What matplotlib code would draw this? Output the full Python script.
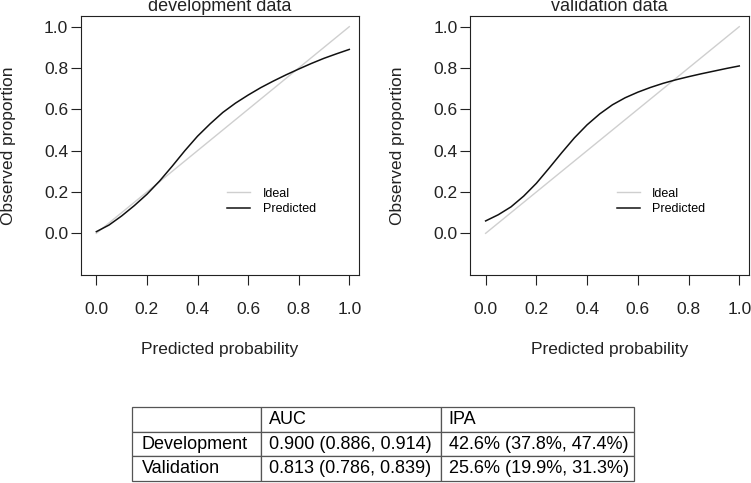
import numpy as np
import matplotlib.pyplot as plt

# Calibration curves
pred_prob = [0.00, 0.05, 0.10, 0.15, 0.20, 0.25, 0.30, 0.35, 0.40, 0.45, 0.50,
             0.55, 0.60, 0.65, 0.70, 0.75, 0.80, 0.85, 0.90, 0.95, 1.00]
dev_observed = [0.008, 0.040, 0.084, 0.134, 0.189, 0.253, 0.325, 0.400, 0.470, 0.530, 0.585,
                0.630, 0.669, 0.705, 0.737, 0.767, 0.795, 0.822, 0.847, 0.869, 0.890]
val_observed = [0.060, 0.090, 0.128, 0.180, 0.242, 0.315, 0.390, 0.462, 0.525, 0.578, 0.622,
                0.656, 0.683, 0.706, 0.726, 0.743, 0.758, 0.772, 0.785, 0.798, 0.810]
ideal = [0.0, 1.0]

panel_titles = ['development data', 'validation data']
ticks = [0.0, 0.2, 0.4, 0.6, 0.8, 1.0]
tick_labels = ['0.0', '0.2', '0.4', '0.6', '0.8', '1.0']

# Table under the plots
table_header = ['', 'AUC', 'IPA']
table_rows = [['Development', '0.900 (0.886, 0.914)', '42.6% (37.8%, 47.4%)'],
              ['Validation', '0.813 (0.786, 0.839)', '25.6% (19.9%, 31.3%)']]

plt.rcParams['font.family'] = ['Liberation Sans', 'DejaVu Sans']

fig = plt.figure(figsize=(7.51, 4.83), dpi=100)
ax1 = fig.add_axes([0.1075, 0.4306, 0.3709, 0.5363])
ax2 = fig.add_axes([0.6258, 0.4306, 0.3719, 0.5363])

for ax, obs, title in zip([ax1, ax2], [dev_observed, val_observed], panel_titles):
    ax.plot(ideal, ideal, color='#cfcfcf', lw=1.0, label='Ideal')
    ax.plot(pred_prob, obs, color='#111111', lw=1.1, label='Predicted')
    ax.set_xlim(-0.0617, 1.0395)
    ax.set_ylim(-0.2018, 1.0518)
    ax.set_xticks(ticks)
    ax.set_xticklabels(tick_labels)
    ax.set_yticks(ticks)
    ax.set_yticklabels(tick_labels)
    ax.tick_params(axis='both', direction='out', length=7.2, width=0.8,
                   labelsize=12.5, colors='#222222')
    ax.tick_params(axis='x', pad=12)
    ax.tick_params(axis='y', pad=1.7)
    for s in ax.spines.values():
        s.set_linewidth(0.8)
        s.set_color('#222222')
    ax.text(0.5, 1.02, title, transform=ax.transAxes, ha='center', va='baseline',
            fontsize=13, color='#222222')
    ax.text(0.5, -0.286, 'Predicted probability', transform=ax.transAxes,
            ha='center', va='center', fontsize=12.5, color='#222222')
    ax.text(-0.26, 0.5, 'Observed proportion', transform=ax.transAxes, rotation=90,
            ha='center', va='center', fontsize=12.5, color='#222222')
    ax.legend(loc='center left', bbox_to_anchor=(0.525, 0.284), frameon=False,
              fontsize=9, handlelength=1.85, handletextpad=1.0, labelspacing=0.3,
              borderpad=0, borderaxespad=0)

# Table
tax = fig.add_axes([0.1754, 0.004, 0.6688, 0.1532])
tax.axis('off')
col_px = [129, 180, 193.3]
tbl = tax.table(cellText=[table_header] + table_rows, cellLoc='left',
                colWidths=[c / sum(col_px) for c in col_px], bbox=[0, 0, 1, 1])
tbl.auto_set_font_size(False)
tbl.set_fontsize(13)
for (r, c), cell in tbl.get_celld().items():
    cell.set_edgecolor('#555555')
    cell.set_linewidth(0.9)
    cell.PAD = (10 if c == 0 else 8) / col_px[c]

fig.savefig('out.png', dpi=100)
